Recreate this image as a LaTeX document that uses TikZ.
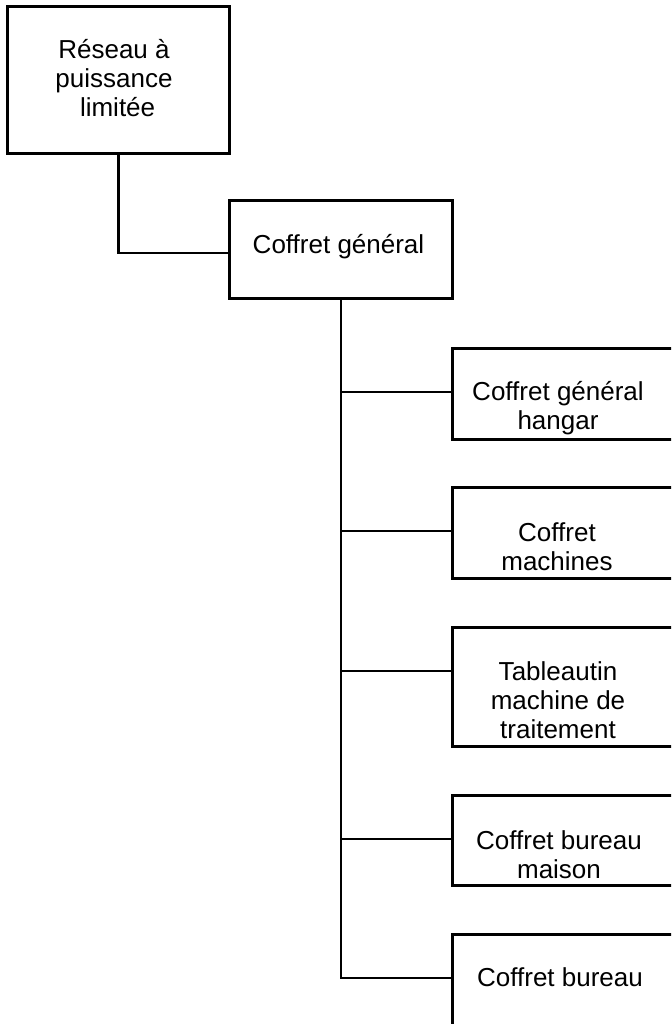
\documentclass[tikz,border=0pt]{standalone}
\usepackage{fontspec}
\setmainfont{Liberation Sans}
\usetikzlibrary{calc}
\begin{document}
\begin{tikzpicture}[x=0.5pt,y=-0.5pt,
  box/.style={draw=black, line width=1.35pt, rectangle, inner sep=0pt, anchor=north west},
  lbl/.style={anchor=base, align=center, inner sep=0pt, font=\fontsize{13pt}{14.5pt}\selectfont},
  wire/.style={draw=black, line width=1.35pt}]
\useasboundingbox (0,0) rectangle (671,1024);
\clip (0,0) rectangle (671,1024);
% boxes
\node[box, minimum width=111pt, minimum height=73.5pt] (root) at (6,5) {};
\node[box, minimum width=111.5pt, minimum height=49pt] (cg) at (228,199) {};
\node[box, minimum width=150pt, minimum height=45.5pt] (b1) at (451,347) {};
\node[box, minimum width=150pt, minimum height=45.5pt] (b2) at (451,486) {};
\node[box, minimum width=150pt, minimum height=59.5pt] (b3) at (451,626) {};
\node[box, minimum width=150pt, minimum height=45pt] (b4) at (451,794) {};
\node[box, minimum width=150pt, minimum height=100pt] (b5) at (451,933) {};
% texts (base anchor = last line's baseline)
\node[lbl] (t0) at (114,116) {Réseau à\\puissance\\\ limitée};
\node[lbl] (tcg) at (338.5,253) {Coffret général};
\node[lbl] (t1) at (558,429) {Coffret général\\hangar};
\node[lbl] (t2) at (557,570) {Coffret\\machines};
\node[lbl] (t3) at (558,738) {Tableautin\\machine de\\traitement};
\node[lbl] (t4) at (559,878) {Coffret bureau\\maison};
\node[lbl] (t5) at (560,986) {Coffret bureau};
% connectors
\draw[wire] (root.south) |- ($(cg.north west)+(0,54)$);
\foreach \b in {b1,b2,b3,b4,b5}{
  \draw[wire] (cg.south) |- ($(\b.north west)+(0,45)$);
}
\end{tikzpicture}
\end{document}
